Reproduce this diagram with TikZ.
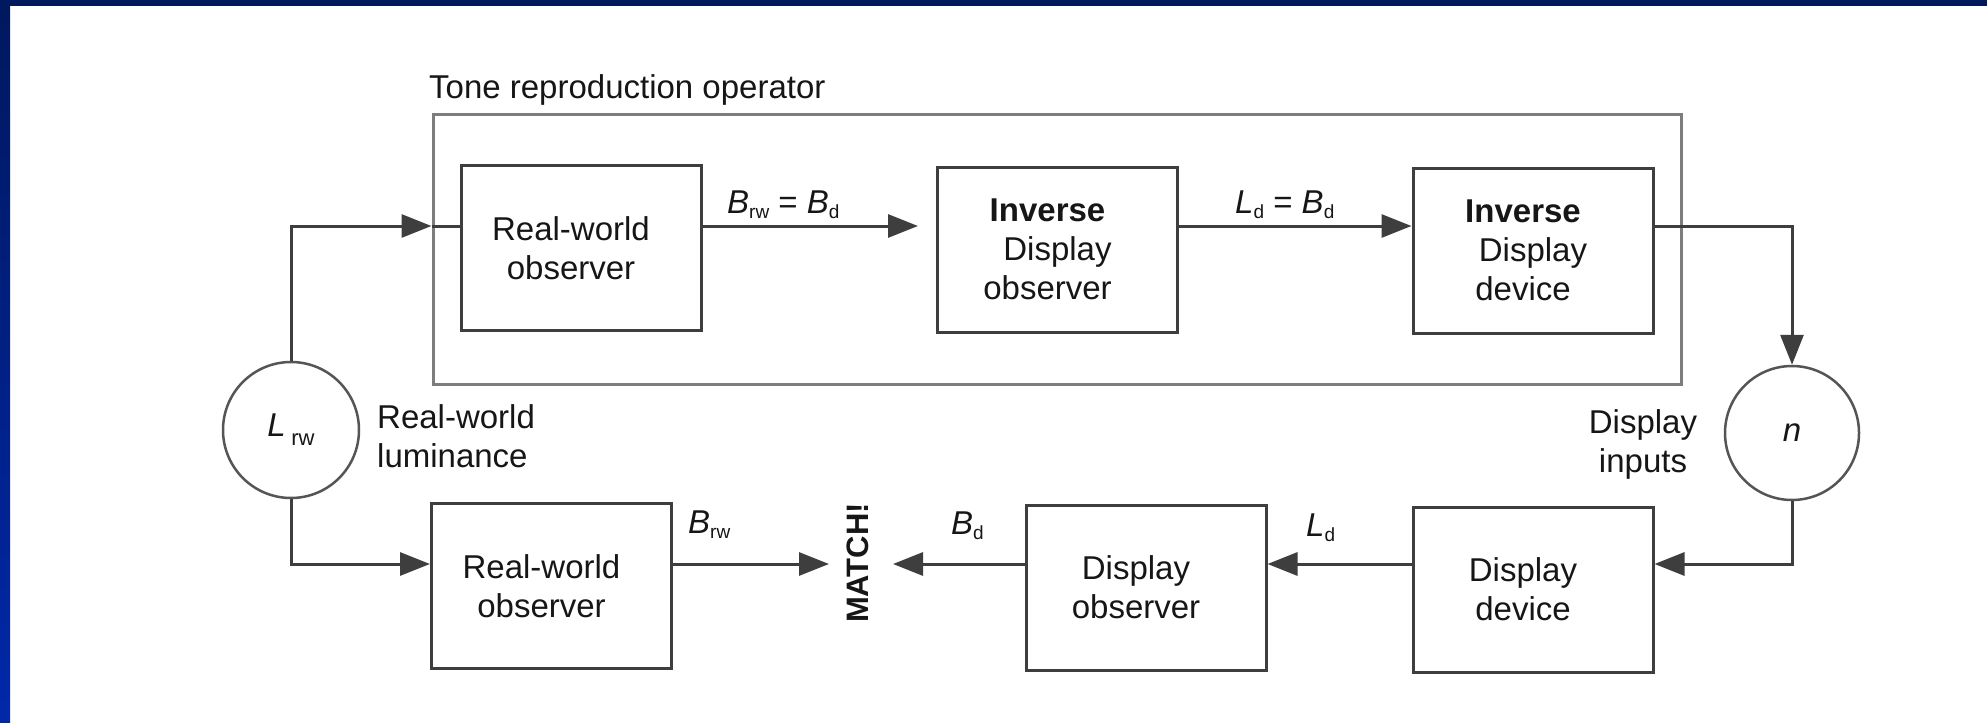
\documentclass[tikz,border=0pt]{standalone}
\usepackage{fontspec}
\setmainfont{Liberation Sans}
\usetikzlibrary{arrows.meta,calc}

\definecolor{navy}{RGB}{0,24,94}
\definecolor{stripeblue}{RGB}{0,40,170}
\definecolor{boxline}{RGB}{62,62,62}
\definecolor{frameline}{RGB}{125,125,125}
\definecolor{circline}{RGB}{85,85,85}
\definecolor{ink}{RGB}{22,22,22}

% italic quantity with a small upright, lowered subscript
\newcommand{\sigq}[2]{{\itshape #1}\raisebox{-5pt}{\fontsize{19}{19}\selectfont #2}}
% box text sits a little left of the box centre
\newcommand{\boxline}[1]{#1\hspace*{20pt}}

\begin{document}
\begin{tikzpicture}[x=1pt,y=-1pt,
  every node/.style={font=\fontsize{33}{39}\selectfont, text=ink, inner sep=0pt},
  blockbox/.style={draw=boxline, line width=3pt, minimum width=240pt,
    minimum height=165pt, align=center},
  framebox/.style={draw=frameline, line width=3pt},
  ringnode/.style={circle, draw=circline, line width=2.5pt, minimum size=136pt},
  conn/.style={draw=boxline, line width=3pt},
  tip/.style={-{Triangle[length=30pt,width=23pt]}}]

  % page background and the blue edge bars
  \fill[white] (0,0) rectangle (1987,723);
  \shade[top color=navy, bottom color=stripeblue] (0,0) rectangle (10,723);
  \fill[navy] (0,0) rectangle (1987,6);
  \useasboundingbox (0,0) rectangle (1987,723);

  % tone reproduction operator
  \node[framebox, minimum width=1248pt, minimum height=270pt] (tro) at (1057,249) {};
  \node[anchor=base west] (trolabel) at (429,98) {Tone reproduction operator};

  \node[blockbox] (rwo1) at (581,248) {\boxline{Real-world}\\\boxline{observer}};
  \node[blockbox] (ido) at (1057.5,249.5) {\boxline{\textbf{Inverse}}\\\boxline{Display}\\\boxline{observer}};
  \node[blockbox] (idd) at (1533,250.5) {\boxline{\textbf{Inverse}}\\\boxline{Display}\\\boxline{device}};

  % bottom chain
  \node[blockbox] (rwo2) at (551.5,586) {\boxline{Real-world}\\\boxline{observer}};
  \node[blockbox] (dob) at (1146,587.5) {\boxline{Display}\\\boxline{observer}};
  \node[blockbox] (ddv) at (1533,589.5) {\boxline{Display}\\\boxline{device}};
  \node[rotate=90, font=\bfseries\fontsize{31}{31}\selectfont] (match) at (858,563) {MATCH!};

  % luminance and display input circles
  \node[ringnode] (Lrw) at (291,430)
    {{\itshape L}\,\raisebox{-9pt}{\fontsize{22}{22}\selectfont rw}};
  \node[ringnode, minimum size=134pt] (nin) at (1792,433) {{\itshape n}};
  \node[anchor=north west, align=left] (lumlabel) at (377,404) {Real-world\\luminance};
  \node[anchor=north, align=center] (inlabel) at (1643,409) {Display\\inputs};

  % signal levels of the two rows
  \coordinate (toprow) at (0,226);
  \coordinate (botrow) at (0,564);

  % connectors, top row
  \draw[conn, tip] (Lrw.north) |- (tro.west |- toprow);
  \draw[conn] (tro.west |- toprow) -- (rwo1.west |- toprow);
  \draw[conn, tip, shorten >=18pt] (rwo1.east |- toprow) -- (ido.west |- toprow);
  \draw[conn, tip] (ido.east |- toprow) -- (idd.west |- toprow);
  \draw[conn, tip] (idd.east |- toprow) -| (nin.north);

  % connectors, bottom row
  \draw[conn, tip] (nin.south) |- (ddv.east |- botrow);
  \draw[conn, tip] (ddv.west |- botrow) -- (dob.east |- botrow);
  \draw[conn, tip, shorten >=35pt] (dob.west |- botrow) -- (match.center |- botrow);
  \draw[conn, tip, shorten >=29pt] (rwo2.east |- botrow) -- (match.center |- botrow);
  \draw[conn, tip] (Lrw.south) |- (rwo2.west |- botrow);

  % signal labels
  \node[anchor=base west] (lab1) at (727,213) {\sigq{B}{rw} = \sigq{B}{d}};
  \node[anchor=base west] (lab2) at (1235,213) {\sigq{L}{d} = \sigq{B}{d}};
  \node[anchor=base west] (lab3) at (688,533) {\sigq{B}{rw}};
  \node[anchor=base west] (lab4) at (951,534) {\sigq{B}{d}};
  \node[anchor=base west] (lab5) at (1306,536) {\sigq{L}{d}};
\end{tikzpicture}
\end{document}
